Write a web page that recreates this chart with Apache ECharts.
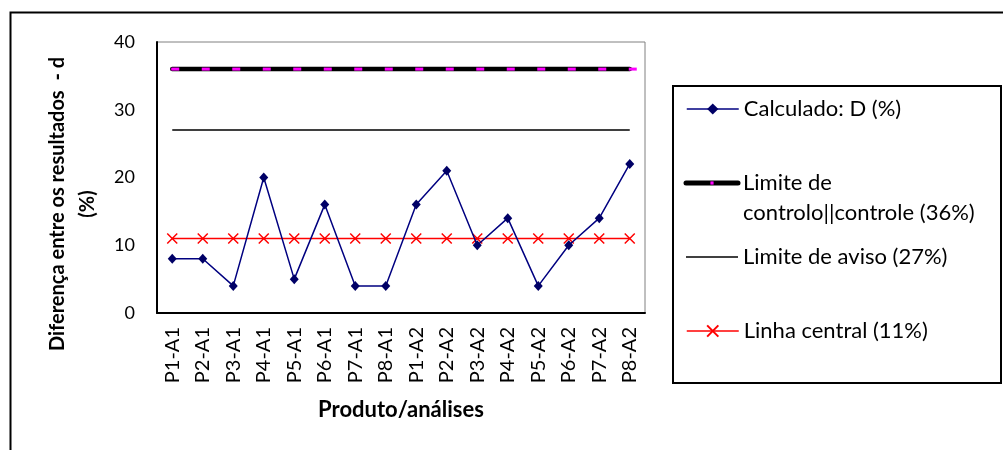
<!DOCTYPE html>
<html>
<head>
<meta charset="utf-8">
<script src="https://cdn.jsdelivr.net/npm/echarts@6/dist/echarts.min.js"></script>
<style>html,body{margin:0;padding:0;background:#fff;}#c{width:1003px;height:450px;}</style>
</head>
<body>
<div id="c"></div>
<script>
const categories = ['P1-A1','P2-A1','P3-A1','P4-A1','P5-A1','P6-A1','P7-A1','P8-A1','P1-A2','P2-A2','P3-A2','P4-A2','P5-A2','P6-A2','P7-A2','P8-A2'];
const calculado = [8, 8, 4, 20, 5, 16, 4, 4, 16, 21, 10, 14, 4, 10, 14, 22];
const limiteControlo = [36, 36, 36, 36, 36, 36, 36, 36, 36, 36, 36, 36, 36, 36, 36, 36];
const limiteAviso = [27, 27, 27, 27, 27, 27, 27, 27, 27, 27, 27, 27, 27, 27, 27, 27];
const linhaCentral = [11, 11, 11, 11, 11, 11, 11, 11, 11, 11, 11, 11, 11, 11, 11, 11];
const seriesNames = ['Calculado: D (%)', 'Limite de controlo||controle (36%)', 'Limite de aviso (27%)', 'Linha central (11%)'];
const yTicks = [0, 10, 20, 30, 40];
const yTitle = 'Diferença entre os resultados  - d\n(%)';
const xTitle = 'Produto/análises';

const FONT = 'Lato';
const chart = echarts.init(document.getElementById('c'), null, {renderer: 'canvas'});

function legendAt(item, centerY, extra) {
  return Object.assign({
    orient: 'vertical',
    left: 686,
    top: centerY - 15,
    padding: 0,
    itemWidth: 52,
    itemHeight: 14,
    itemGap: 5,
    selectedMode: false,
    data: [item],
    lineStyle: {width: 1.5},
    textStyle: {fontFamily: FONT, fontSize: 22, color: '#000', lineHeight: 30}
  }, extra || {});
}

const option = {
  animation: false,
  backgroundColor: '#fff',
  grid: {left: 157, right: 358, top: 42, bottom: 137, show: true, borderColor: '#808080', borderWidth: 1, backgroundColor: 'transparent'},
  xAxis: {
    type: 'category',
    data: categories,
    boundaryGap: true,
    axisLine: {lineStyle: {color: '#000', width: 2}},
    axisTick: {show: false},
    axisLabel: {rotate: 90, margin: 14, fontFamily: FONT, fontSize: 20, color: '#000', interval: 0},
    name: xTitle,
    nameLocation: 'middle',
    nameGap: 86,
    nameTextStyle: {fontFamily: FONT, fontSize: 22, fontWeight: 'bold', color: '#000'}
  },
  yAxis: {
    type: 'value',
    min: yTicks[0], max: yTicks[yTicks.length - 1], interval: 10,
    axisLine: {show: true, lineStyle: {color: '#000', width: 2}},
    axisTick: {show: false},
    splitLine: {show: false},
    axisLabel: {margin: 22, fontFamily: FONT, fontSize: 18, color: '#000'}
  },
  legend: [
    legendAt(seriesNames[0], 109),
    legendAt(seriesNames[1], 183, {
      left: 683.5,
      top: 183 - 45,
      itemHeight: 4,
      lineStyle: {width: 5, cap: 'round', color: '#000'},
      formatter: function () { return '\nLimite de\ncontrolo||controle (36%)'; }
    }),
    legendAt({name: seriesNames[2], icon: 'rect'}, 257, {itemHeight: 1.6}),
    legendAt(seriesNames[3], 331)
  ],
  graphic: [
    {type: 'rect', silent: true, z: -10, shape: {x: 10.5, y: 12.5, width: 1100, height: 600}, style: {fill: 'none', stroke: '#000', lineWidth: 2}},
    {type: 'rect', silent: true, z: -10, shape: {x: 673, y: 86, width: 328, height: 297}, style: {fill: '#fff', stroke: '#000', lineWidth: 2}},
    {type: 'text', silent: true, x: 73, y: 204, rotation: Math.PI / 2,
     style: {text: yTitle, align: 'center', verticalAlign: 'middle', lineHeight: 30, fontFamily: FONT, fontSize: 20, fontWeight: 'bold', fill: '#000'}}
  ],
  series: [
    {
      name: seriesNames[1], type: 'line', data: limiteControlo,
      lineStyle: {color: '#000', width: 4.5, cap: 'round'},
      symbol: 'rect', symbolSize: [8, 3], symbolOffset: [3, 0],
      itemStyle: {color: '#FF00FF'},
      z: 2, silent: true
    },
    {
      name: seriesNames[2], type: 'line', data: limiteAviso,
      lineStyle: {color: '#000', width: 1.5},
      showSymbol: false, symbol: 'none', itemStyle: {color: '#000'},
      z: 2, silent: true
    },
    {
      name: seriesNames[3], type: 'line', data: linhaCentral,
      lineStyle: {color: '#FF0000', width: 1.5},
      symbol: 'path://M0,0L10,10M10,0L0,10', symbolSize: 10,
      itemStyle: {color: '#FF0000', borderColor: '#FF0000', borderWidth: 1.5},
      z: 3, silent: true
    },
    {
      name: seriesNames[0], type: 'line', data: calculado,
      lineStyle: {color: '#000080', width: 1.5},
      symbol: 'diamond', symbolSize: [9, 10],
      itemStyle: {color: '#000066'},
      z: 4, silent: true
    }
  ]
};
chart.setOption(option);
</script>
</body>
</html>
